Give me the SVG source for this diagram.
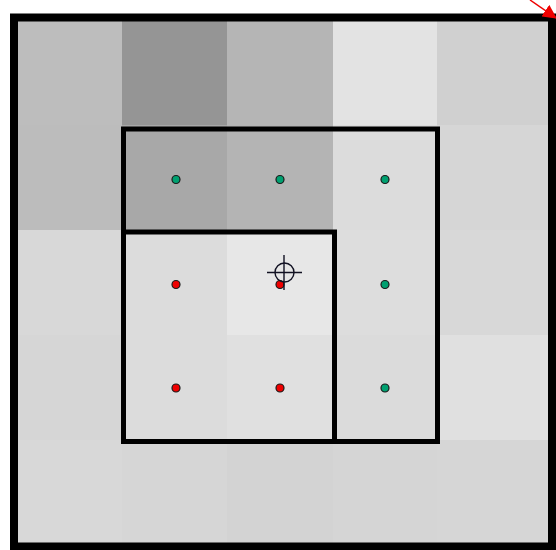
<svg xmlns="http://www.w3.org/2000/svg" width="556" height="550" viewBox="0 0 556 550">
<defs>
<style>
.frame{fill:none;stroke:#000;stroke-linejoin:miter}
.g{fill:#00a070;stroke:#1a1a1a;stroke-width:1.2}
.r{fill:#ee0000;stroke:#1a1a1a;stroke-width:1.2}
.cross{fill:none;stroke:#111122;stroke-width:1.4}
</style>
<marker id="ah" markerWidth="14" markerHeight="14" refX="13" refY="7" orient="auto" markerUnits="userSpaceOnUse">
<path d="M0,0 L14,7 L0,14 z" fill="#ee0000"/>
</marker>
</defs>
<rect width="556" height="550" fill="#fff"/>
<g id="grid">
<rect x="17" y="20" width="106" height="106" fill="#bdbdbd"/>
<rect x="122" y="20" width="106" height="106" fill="#959595"/>
<rect x="227" y="20" width="107" height="106" fill="#b5b5b5"/>
<rect x="333" y="20" width="105" height="106" fill="#e3e3e3"/>
<rect x="437" y="20" width="112" height="106" fill="#d0d0d0"/>
<rect x="17" y="125" width="106" height="106" fill="#bcbcbc"/>
<rect x="122" y="125" width="106" height="106" fill="#a8a8a8"/>
<rect x="227" y="125" width="107" height="106" fill="#b4b4b4"/>
<rect x="333" y="125" width="105" height="106" fill="#dcdcdc"/>
<rect x="437" y="125" width="112" height="106" fill="#d6d6d6"/>
<rect x="17" y="230" width="106" height="106" fill="#d8d8d8"/>
<rect x="122" y="230" width="106" height="106" fill="#dcdcdc"/>
<rect x="227" y="230" width="107" height="106" fill="#e7e7e7"/>
<rect x="333" y="230" width="105" height="106" fill="#dddddd"/>
<rect x="437" y="230" width="112" height="106" fill="#d8d8d8"/>
<rect x="17" y="335" width="106" height="106" fill="#d6d6d6"/>
<rect x="122" y="335" width="106" height="106" fill="#dcdcdc"/>
<rect x="227" y="335" width="107" height="106" fill="#e0e0e0"/>
<rect x="333" y="335" width="105" height="106" fill="#dbdbdb"/>
<rect x="437" y="335" width="112" height="106" fill="#e0e0e0"/>
<rect x="17" y="440" width="106" height="106" fill="#d8d8d8"/>
<rect x="122" y="440" width="106" height="106" fill="#d6d6d6"/>
<rect x="227" y="440" width="107" height="106" fill="#d3d3d3"/>
<rect x="333" y="440" width="105" height="106" fill="#d5d5d5"/>
<rect x="437" y="440" width="112" height="106" fill="#d6d6d6"/>
</g>
<g id="outer">
<rect class="frame" x="14" y="17.5" width="538" height="529" stroke-width="8"/>
</g>
<g id="big-window">
<rect class="frame" x="123.5" y="129" width="314" height="312.5" stroke-width="5"/>
</g>
<g id="small-window">
<rect class="frame" x="123.5" y="232" width="211" height="209.5" stroke-width="5"/>
</g>
<g id="points">
<circle class="g" cx="176" cy="179.5" r="4"/>
<circle class="g" cx="280" cy="179.5" r="4"/>
<circle class="g" cx="385" cy="179.5" r="4"/>
<circle class="r" cx="176" cy="284.5" r="4"/>
<circle class="r" cx="280" cy="284.5" r="4"/>
<circle class="g" cx="385" cy="284.5" r="4"/>
<circle class="r" cx="176" cy="388" r="4"/>
<circle class="r" cx="280" cy="388" r="4"/>
<circle class="g" cx="385" cy="388" r="4"/>
</g>
<g id="crosshair">
<circle class="cross" cx="284.5" cy="272.5" r="9.5"/>
<line class="cross" x1="267" y1="272.5" x2="302" y2="272.5"/>
<line class="cross" x1="284" y1="255" x2="284" y2="290"/>
</g>
<g id="connectors">
<line x1="530" y1="0" x2="556" y2="18" stroke="#ee0000" stroke-width="1.5" marker-end="url(#ah)"/>
</g>
</svg>
